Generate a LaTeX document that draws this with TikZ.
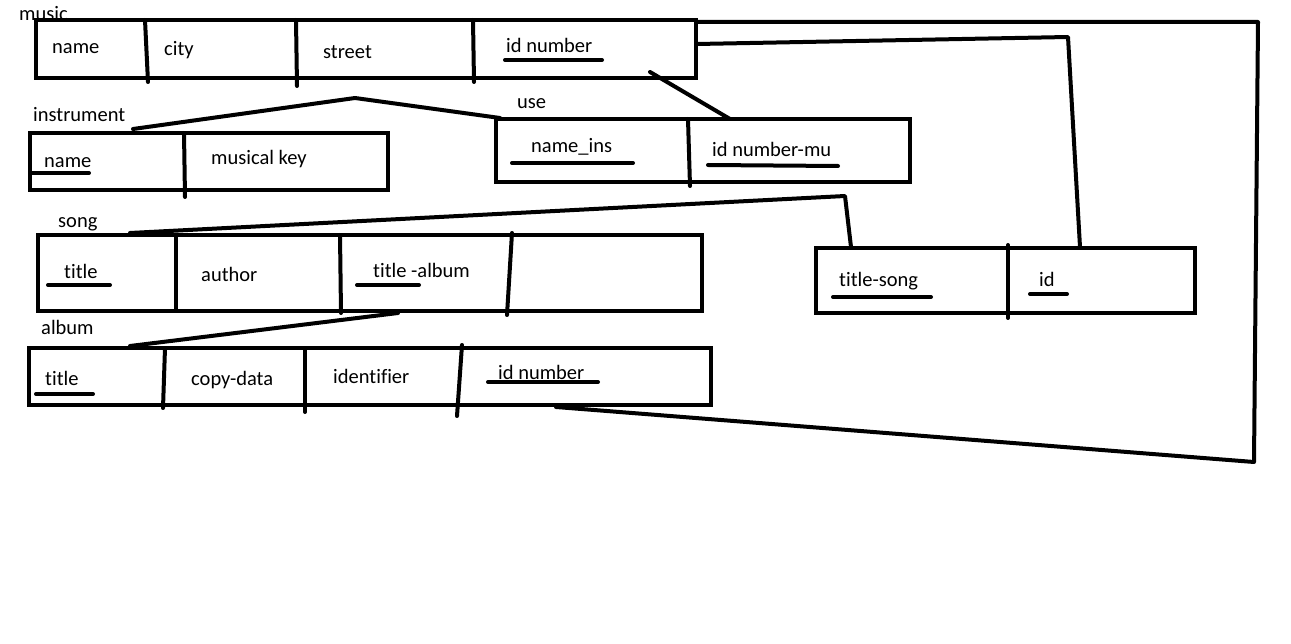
\documentclass[tikz,border=0pt]{standalone}
\usepackage{fontspec}
\setmainfont{Carlito}[Ligatures=CommonOff]
\usetikzlibrary{positioning}

\begin{document}
\begin{tikzpicture}[x=1pt,y=-1pt,
  tbl/.style={draw, line width=4pt, inner sep=0pt},
  lbl/.style={anchor=base west, inner sep=0pt, font=\fontsize{20.5}{24}\selectfont},
  key/.style={line width=4pt, line cap=round},
  link/.style={line width=4pt, line join=round, line cap=round}]
\useasboundingbox[fill=white] (0,0) rectangle (1291,644);
% table titles
\node[lbl] (tMusic) at (19,21) {music};
\node[lbl] (tInst) at (33,122) {instrument};
\node[lbl] (tUse) at (517,109) {use};
\node[lbl] (tSong) at (58,228) {song};
\node[lbl] (tAlbum) at (41,335) {album};
% tables
\node[tbl, minimum width=660, minimum height=58] (music) at (366,49) {};
\node[tbl, minimum width=358, minimum height=57] (instrument) at (209,161.5) {};
\node[tbl, minimum width=414, minimum height=63] (use) at (703,150.5) {};
\node[tbl, minimum width=664, minimum height=76] (song) at (370,273) {};
\node[tbl, minimum width=682, minimum height=57] (album) at (370,376.5) {};
\node[tbl, minimum width=379, minimum height=65] (titlesong) at (1005.5,280.5) {};
% column dividers
\draw[key] (145,20) -- (148,82);
\draw[key] (296,20) -- (297,86);
\draw[key] (473,20) -- (474,82);
\draw[key] (184,133) -- (185,197);
\draw[key] (688,119) -- (690,186);
\draw[key] (176,235) -- (176,311);
\draw[key] (340,235) -- (341,313);
\draw[key] (512,233) -- (507,315);
\draw[key] (165,348) -- (163,408);
\draw[key] (305,350) -- (305,412);
\draw[key] (462,345) -- (457,416);
\draw[key] (1008,245) -- (1008,318);
% cells
\node[lbl] (mName) at (52,54) {name};
\node[lbl] (mCity) at (164,56) {city};
\node[lbl] (mStreet) at (323,59) {street};
\node[lbl] (mId) at (506,53) {id number};
\node[lbl] (iName) at (44,168) {name};
\node[lbl] (iKey) at (211,165) {musical key};
\node[lbl] (uName) at (531,153) {name\_ins};
\node[lbl] (uId) at (712,157) {id number-mu};
\node[lbl] (sTitle) at (64,279) {title};
\node[lbl] (sAuthor) at (201,282) {author};
\node[lbl] (sAlbum) at (373,278) {title -album};
\node[lbl] (aTitle) at (45,385) {title};
\node[lbl] (aCopy) at (191,385) {copy-data};
\node[lbl] (aIdent) at (333,384) {identifier};
\node[lbl] (aId) at (498,380) {id number};
\node[lbl] (tsTitle) at (839,287) {title-song};
\node[lbl] (tsId) at (1039,287) {id};
% keys
\draw[key] (505,60) -- (602,60);
\draw[key] (30,173) -- (89,173);
\draw[key] (512,163) -- (633,163);
\draw[key] (708,165) -- (838,166);
\draw[key] (48,285) -- (110,285);
\draw[key] (357,285) -- (419,285);
\draw[key] (36,394) -- (93,394);
\draw[key] (488,382) -- (598,382);
\draw[key] (833,297) -- (931,297);
\draw[key] (1030,294) -- (1067,294);
% links
\coordinate (muFrom) at (650,72);
\coordinate (muTo) at (730,119);
\coordinate (iuFrom) at (133,129);
\coordinate (iuBend) at (355,98);
\coordinate (iuTo) at (500,118);
\coordinate (stFrom) at (130,233);
\coordinate (stBend) at (845,196);
\coordinate (stTo) at (851,247);
\coordinate (miFrom) at (697,44);
\coordinate (miBend) at (1068,37);
\coordinate (miTo) at (1080,247);
\coordinate (saFrom) at (398,313);
\coordinate (saTo) at (130,346);
\coordinate (amFrom) at (556,407);
\coordinate (amBend) at (1254,462);
\coordinate (amTop) at (1258,22);
\coordinate (amTo) at (697,22);
\draw[link] (muFrom) -- (muTo);
\draw[link] (iuFrom) -- (iuBend) -- (iuTo);
\draw[link] (stFrom) -- (stBend) -- (stTo);
\draw[link] (miFrom) -- (miBend) -- (miTo);
\draw[link] (saFrom) -- (saTo);
\draw[link] (amFrom) -- (amBend) -- (amTop) -- (amTo);
\end{tikzpicture}
\end{document}
